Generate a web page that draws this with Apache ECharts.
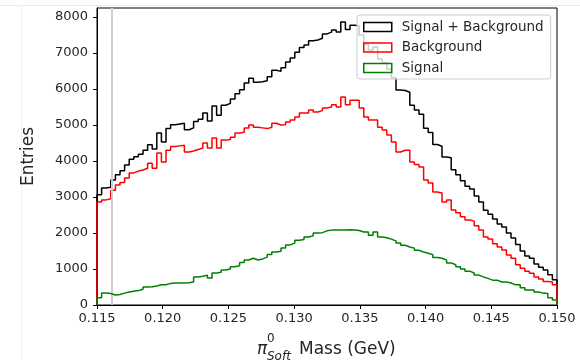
<!DOCTYPE html>
<html>
<head>
<meta charset="utf-8">
<script src="https://cdn.jsdelivr.net/npm/echarts@6/dist/echarts.min.js"></script>
<style>
html,body{margin:0;padding:0;background:#fff;}
#chart{width:580px;height:360px;}
</style>
</head>
<body>
<div id="chart"></div>
<script>
// Histogram binning
const xMin = 0.115;
const xMax = 0.150;
const nBins = 100;
const xTicks = [0.115, 0.120, 0.125, 0.130, 0.135, 0.140, 0.145, 0.150];
const yTicks = [0, 1000, 2000, 3000, 4000, 5000, 6000, 7000, 8000];
const yMax = 8250;
const cutValue = 0.11616;
const seriesNames = ['Signal + Background', 'Background', 'Signal'];

const total = [
3060,3250,3270,3470,3620,3730,3890,4050,4120,4190,
4300,4450,4330,4780,4530,4900,5010,5030,5050,4870,
4920,5100,5160,5330,5110,5530,5270,5550,5600,5720,
5870,5980,6170,6300,6190,6200,6230,6340,6520,6490,
6590,6750,6860,7020,7150,7220,7340,7360,7410,7530,
7580,7640,7580,7860,7650,7770,7760,7500,7250,7080,
7170,6830,6730,6550,6310,5970,5960,5910,5550,5420,
5300,4910,4790,4460,4410,4110,4090,3760,3620,3450,
3300,3220,3030,2860,2630,2520,2390,2250,2170,2000,
1860,1680,1500,1360,1300,1140,1050,970,840,700];

const background = [
2860,2920,2950,3190,3330,3400,3530,3670,3720,3750,
3800,3940,3800,4220,3970,4300,4400,4420,4440,4250,
4280,4320,4360,4500,4360,4640,4360,4580,4600,4660,
4780,4800,4920,5000,4940,4920,4900,4940,5050,5000,
5010,5080,5140,5220,5330,5330,5420,5360,5400,5470,
5500,5560,5500,5780,5560,5690,5690,5470,5220,5140,
5140,4940,4860,4720,4530,4250,4300,4300,3970,3900,
3830,3470,3390,3140,3110,2860,2920,2640,2560,2450,
2360,2330,2200,2080,1890,1830,1700,1610,1530,1390,
1300,1120,1020,940,880,780,720,650,640,560];

const signal = [
200,330,320,280,290,330,360,380,400,440,
500,510,530,560,560,600,610,610,610,620,
640,780,800,830,750,890,910,970,1000,1060,
1090,1180,1250,1300,1250,1280,1330,1400,1470,1490,
1580,1670,1720,1800,1820,1890,1920,2000,2010,2060,
2080,2080,2080,2080,2090,2080,2070,2030,2030,1940,
2030,1890,1870,1830,1780,1720,1660,1610,1580,1520,
1470,1440,1400,1320,1300,1250,1170,1120,1060,1000,
940,890,830,780,740,690,690,640,640,610,
560,560,480,420,420,360,330,320,200,140];

const colors = ['#000000', '#ff0000', '#008000'];

function stepData(vals) {
  const w = (xMax - xMin) / nBins;
  const pts = [[xMin, 0]];
  for (let i = 0; i < vals.length; i++) pts.push([xMin + i * w, vals[i]]);
  pts.push([xMax, vals[vals.length - 1]]);
  pts.push([xMax, 0]);
  return pts;
}

const FONT = 'DejaVu Sans';
const chart = echarts.init(document.getElementById('chart'), null, {renderer: 'canvas'});

const allSeries = [total, background, signal].map((vals, k) => ({
  name: seriesNames[k],
  type: 'line',
  step: 'end',
  data: stepData(vals),
  showSymbol: false,
  symbol: 'none',
  animation: false,
  clip: true,
  color: colors[k],
  lineStyle: {color: colors[k], width: 1.5},
  itemStyle: {color: colors[k]},
  z: 3 + k,
  markLine: k === 0 ? {
    silent: true,
    symbol: 'none',
    precision: 6,
    label: {show: false},
    animation: false,
    lineStyle: {color: '#cfcfcf', width: 2, type: 'solid'},
    data: [{xAxis: cutValue}]
  } : undefined
}));

chart.setOption({
  animation: false,
  backgroundColor: '#ffffff',
  grid: {left: 97, right: 23, top: 8, bottom: 55, show: true, borderColor: '#000', borderWidth: 1, backgroundColor: 'transparent'},
  legend: {
    left: 357, top: 15,
    orient: 'vertical',
    icon: 'rect',
    itemWidth: 28, itemHeight: 9,
    itemGap: 4.5,
    padding: [4, 7, 3, 6],
    backgroundColor: 'rgba(255,255,255,0.8)',
    borderColor: '#cccccc', borderWidth: 1, borderRadius: 3,
    textStyle: {fontFamily: FONT, fontSize: 13.5, color: '#262626', lineHeight: 16, padding: [0, 0, 0, 5]},
    data: seriesNames.map((n, k) => ({
      name: n,
      itemStyle: {color: 'rgba(0,0,0,0)', borderColor: colors[k], borderWidth: 1.5}
    })),
    z: 10
  },
  xAxis: {
    type: 'value',
    min: xMin, max: xMax,
    axisLine: {show: true, onZero: false, lineStyle: {color: '#000', width: 1}},
    axisTick: {show: true, length: 4, lineStyle: {color: '#000'}, customValues: xTicks},
    axisLabel: {fontFamily: FONT, fontSize: 13, color: '#262626', margin: 7,
      customValues: xTicks, formatter: v => v.toFixed(3)},
    splitLine: {show: false}
  },
  yAxis: {
    type: 'value',
    min: 0, max: yMax,
    name: 'Entries',
    nameLocation: 'middle',
    nameGap: 60,
    nameRotate: 90,
    nameTextStyle: {fontFamily: FONT, fontSize: 17, color: '#262626'},
    axisLine: {show: true, lineStyle: {color: '#000', width: 1}},
    axisTick: {show: true, length: 4, lineStyle: {color: '#000'}, customValues: yTicks},
    axisLabel: {fontFamily: FONT, fontSize: 13, color: '#262626', margin: 9,
      customValues: yTicks, formatter: v => String(Math.round(v))},
    splitLine: {show: false}
  },
  graphic: [
    {type: 'line', shape: {x1: 0, y1: 5.5, x2: 580, y2: 5.5}, style: {stroke: '#ececec', lineWidth: 1}, silent: true, z: -1},
    {type: 'line', shape: {x1: 21.5, y1: 5.5, x2: 21.5, y2: 360}, style: {stroke: '#f0f0f0', lineWidth: 1}, silent: true, z: -1},
    {type: 'text', style: {text: 'π', x: 257, y: 350, font: 'italic 17px "DejaVu Sans"', fill: '#262626', textVerticalAlign: 'middle'}},
    {type: 'text', style: {text: '0', x: 267, y: 339, font: '12px "DejaVu Sans"', fill: '#262626', textVerticalAlign: 'middle'}},
    {type: 'text', style: {text: 'Soft', x: 267, y: 357, font: 'italic 12px "DejaVu Sans"', fill: '#262626', textVerticalAlign: 'middle'}},
    {type: 'text', style: {text: 'Mass (GeV)', x: 299, y: 350, font: '17px "DejaVu Sans"', fill: '#262626', textVerticalAlign: 'middle'}}
  ],
  series: allSeries
});
</script>
</body>
</html>
